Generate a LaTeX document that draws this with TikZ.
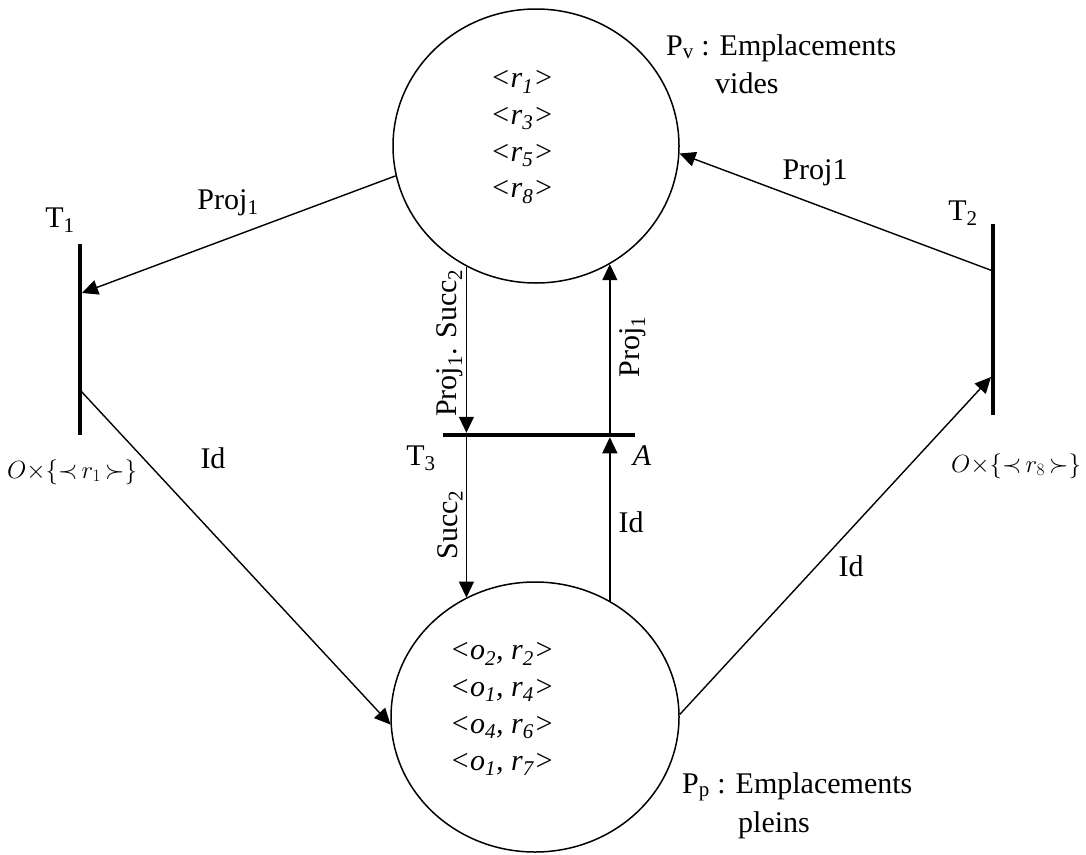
\documentclass[tikz,border=0pt]{standalone}
\usepackage{fontspec}
\setmainfont{Liberation Serif}
\usetikzlibrary{arrows.meta,shapes.geometric}
\begin{document}
\begin{tikzpicture}[x=1pt,y=-1pt,
  every node/.style={font=\fontsize{30}{38}\selectfont, inner sep=0pt},
  place/.style={draw, ellipse, line width=1.5pt, inner sep=0pt},
  bar/.style={fill=black, draw=none, inner sep=0pt, outer sep=0pt, rectangle},
  arc/.style={line width=1.4pt},
  arr/.style={arc, -{Triangle[length=16pt,width=15pt]}},
  lab/.style={anchor=base},
  contents/.style={align=center, font=\itshape\fontsize{30}{36.7}\selectfont},
  mlab/.style={font=\fontsize{26}{30}\selectfont},
]
\useasboundingbox (0,0) rectangle (1086,854);
% places
\node[place, minimum width=286pt, minimum height=274pt] (Pv) at (536,146) {};
\node[place, minimum width=288pt, minimum height=270pt] (Pp) at (535,717) {};
% transitions
\node[bar, minimum width=4.5pt, minimum height=191pt] (T1) at (80,339.5) {};
\node[bar, minimum width=4.5pt, minimum height=191pt] (T2) at (993,319.5) {};
\node[bar, minimum width=192pt, minimum height=4.5pt] (T3) at (539,435) {};
% contents
\node[contents] (pvt) at (522,137) {<r\textsubscript{1}>\\<r\textsubscript{3}>\\<r\textsubscript{5}>\\<r\textsubscript{8}>};
\node[contents] (ppt) at (502,709) {<o\textsubscript{2}, r\textsubscript{2}>\\<o\textsubscript{1}, r\textsubscript{4}>\\<o\textsubscript{4}, r\textsubscript{6}>\\<o\textsubscript{1}, r\textsubscript{7}>};
% place names
\node[anchor=base west] (pv1) at (666,55) {P\textsubscript{v} : Emplacements};
\node[anchor=base west] (pv2) at (715,93) {vides};
\node[anchor=base west] (pp1) at (682,793) {P\textsubscript{p} : Emplacements};
\node[anchor=base west] (pp2) at (738,832) {pleins};
% transition labels
\node[lab] (lT1) at (60,227) {T\textsubscript{1}};
\node[lab] (lT2) at (963,220) {T\textsubscript{2}};
\node[lab] (lT3) at (421,465) {T\textsubscript{3}};
\node[lab] (lA) at (642,465) {\textit{A}};
\node[mlab] (m1) at (72,472) {$O{\times}\{{\prec}\,r_1\,{\succ}\}$};
\node[mlab] (m2) at (1016,466) {$O{\times}\{{\prec}\,r_8\,{\succ}\}$};
% connector end points on transitions
\coordinate (t1a) at (82,293);
\coordinate (t1b) at (80,390);
\coordinate (t2a) at (993,271);
\coordinate (t2b) at (991,377);
% connectors
\draw[arr] (Pv.192) -- (t1a);
\draw[arr] (t1b) -- (Pp.183);
\draw[arr] (t2a) -- (Pv.357);
\draw[arr] (Pp.1) -- (t2b);
\draw[arr] (Pv.240) -- (Pv.240 |- T3.north);
\draw[arr] (Pv.240 |- T3.center) -- (Pv.240 |- Pp.120);
\draw[arr] (Pv.302 |- T3.center) -- (Pv.302);
\draw[arr] (Pv.302 |- Pp.57) -- (Pv.302 |- T3.south);
% connector labels
\node[lab] (lproj1) at (228,209) {Proj\textsubscript{1}};
\node[lab] (lproj1b) at (815,179) {Proj1};
\node[lab] (lid1) at (213,468) {Id};
\node[lab] (lid2) at (851,576) {Id};
\node[lab] (lid3) at (631,532) {Id};
\node[rotate=90] (lps) at (450,343) {Proj\textsubscript{1}. Succ\textsubscript{2}};
\node[rotate=90] (lproj1c) at (633,347) {Proj\textsubscript{1}};
\node[rotate=90] (lsucc) at (450,525) {Succ\textsubscript{2}};
\end{tikzpicture}
\end{document}
